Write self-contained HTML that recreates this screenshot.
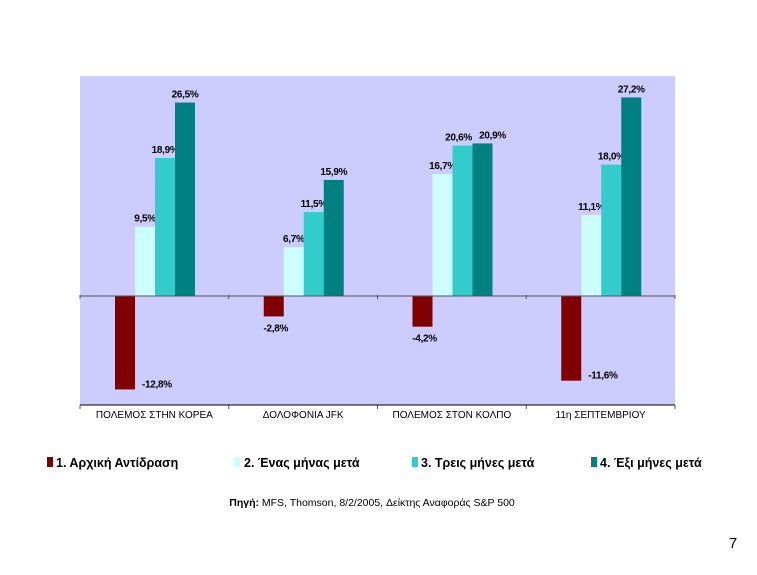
<!DOCTYPE html>
<html><head><meta charset="utf-8"><style>
body{margin:0;background:#fff;width:757px;height:570px;overflow:hidden;font-family:"Liberation Sans",sans-serif}
svg text{font-family:"Liberation Sans",sans-serif}
</style></head><body>
<svg width="757" height="570" id="chart">
<rect x="80" y="76" width="595" height="329" fill="#CCCCFF"/>
<g id="bars"></g>
<line x1="80" y1="405" x2="675" y2="405" stroke="#000" stroke-width="1"/>
<g id="legend" font-size="12.5" font-weight="bold">
<rect x="47" y="457" width="6" height="10" fill="#800000"/>
<text x="56" y="467">1. Αρχική Αντίδραση</text>
<rect x="234" y="457" width="6" height="10" fill="#CCFFFF"/>
<text x="244" y="467">2. Ένας μήνας μετά</text>
<rect x="412" y="457" width="6" height="10" fill="#33CCCC"/>
<text x="421" y="467">3. Τρεις μήνες μετά</text>
<rect x="591" y="457" width="6" height="10" fill="#008080"/>
<text x="600" y="467">4. Έξι μήνες μετά</text>
</g>
<text x="372" y="506" text-anchor="middle" font-size="10.5"><tspan font-weight="bold">Πηγή:</tspan> MFS, Thomson, 8/2/2005, Δείκτης Αναφοράς S&amp;P 500</text>
<text x="733" y="548" text-anchor="middle" font-size="15">7</text>
</svg>
<script>
const categories = ["ΠΟΛΕΜΟΣ ΣΤΗΝ ΚΟΡΕΑ","ΔΟΛΟΦΟΝΙΑ JFK","ΠΟΛΕΜΟΣ ΣΤΟΝ ΚΟΛΠΟ","11η ΣΕΠΤΕΜΒΡΙΟΥ"];
const initialReaction = [-12.8,-2.8,-4.2,-11.6];
const oneMonth = [9.5,6.7,16.7,11.1];
const threeMonths = [18.9,11.5,20.6,18.0];
const sixMonths = [26.5,15.9,20.9,27.2];
const seriesColors = ["#800000","#CCFFFF","#33CCCC","#008080"];
const series = [initialReaction, oneMonth, threeMonths, sixMonths];
const left=80, right=675, zeroY=296, pxPer=7.3, groupW=(right-left)/categories.length, barW=20, gap=35;
function yScale(v){return zeroY - v*pxPer;}
const NS="http://www.w3.org/2000/svg";
const g=document.getElementById('bars');
function mk(tag,attrs){const e=document.createElementNS(NS,tag);for(const k in attrs)e.setAttribute(k,attrs[k]);g.appendChild(e);return e;}
function fmt(v){return v.toFixed(1).replace('.',',')+'%';}
categories.forEach((c,i)=>{
  const gx=left+i*groupW;
  series.forEach((s,j)=>{
    const v=s[i];const x=gx+gap+j*barW;
    const y=Math.min(yScale(v),zeroY), h=Math.abs(yScale(v)-zeroY);
    const r=mk('rect',{x:x,y:y,width:barW,height:h,fill:seriesColors[j]});
    
    
    let tx,ty,anchor='middle';
    if(v>=0){
      tx=x+barW/2;ty=yScale(v)-5;
      // avoid overlap between neighbouring labels of similar height
      if(j>=1 && j<series.length-1 && Math.abs(yScale(v)-yScale(series[j+1][i]))<14) tx-=4;
      if(j>=2 && Math.abs(yScale(v)-yScale(series[j-1][i]))<14) tx+=10;
    }
    else if(v<-8){tx=x+barW+7;ty=yScale(v)-2;anchor='start';}
    else{tx=x+barW/2+2;ty=yScale(v)+15;}
    const t=mk('text',{x:tx,y:ty,'text-anchor':anchor,'font-size':'10','font-weight':'bold','letter-spacing':'-0.3'});
    t.textContent=fmt(v);
    
    
  });
  const cl=mk('text',{x:gx+groupW/2,y:418,'text-anchor':'middle','font-size':'10'});
  cl.textContent=c;
  
  
});
const zl=mk('line',{x1:left,y1:zeroY,x2:right,y2:zeroY,stroke:'#555','stroke-width':1});


for(let i=0;i<=categories.length;i++){
  const x=left+i*groupW;
  const t1=mk('line',{x1:x,y1:zeroY-1,x2:x,y2:zeroY+3,stroke:'#555'});
  
  
  const t2=mk('line',{x1:x,y1:405,x2:x,y2:409,stroke:'#555'});
  
  
}
</script>
</body></html>
